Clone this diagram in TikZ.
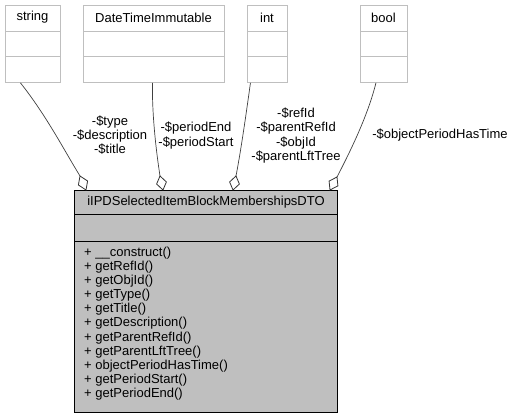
\documentclass[tikz,border=0pt]{standalone}
\usepackage{fontspec}
\setmainfont{Liberation Sans}
\usetikzlibrary{calc}
\definecolor{boxgray}{HTML}{BFBFBF}
\definecolor{lightedge}{HTML}{BFBFBF}
\tikzset{
  typebox/.style={draw=lightedge, fill=white, line width=0.9pt, minimum height=77pt, inner sep=0pt, anchor=north west},
  mainbox/.style={draw=black, fill=boxgray, line width=0.9pt, inner sep=0pt, anchor=north west},
  txt/.style={font=\fontsize{13}{14.3}\selectfont, inner sep=0pt},
  lbl/.style={txt, align=center},
  agg/.style={draw=black!75, line width=0.7pt},
  aggtip/.style={draw=black!80, fill=white, line width=0.8pt},
}
\begin{document}
\begin{tikzpicture}[x=1pt,y=-1pt]
\useasboundingbox (0,0) rectangle (515,419);
% type boxes
\node[typebox, minimum width=55pt] (string) at (5,5) {};
\draw[lightedge, line width=0.9pt] (5,31) -- (60,31) (5,56.5) -- (60,56.5);
\node[txt] (stringT) at (32.5,17.5) {string};
\node[typebox, minimum width=141pt] (dti) at (83,5) {};
\draw[lightedge, line width=0.9pt] (83,31) -- (224,31) (83,56.5) -- (224,56.5);
\node[txt] (dtiT) at (153.5,17.5) {DateTimeImmutable};
\node[typebox, minimum width=40pt] (int) at (247,5) {};
\draw[lightedge, line width=0.9pt] (247,31) -- (287,31) (247,56.5) -- (287,56.5);
\node[txt] (intT) at (267,17.5) {int};
\node[typebox, minimum width=47pt] (bool) at (360,5) {};
\draw[lightedge, line width=0.9pt] (360,31) -- (407,31) (360,56.5) -- (407,56.5);
\node[txt] (boolT) at (383.5,17.5) {bool};
% main class
\node[mainbox, minimum width=263pt, minimum height=222pt] (cls) at (74,190) {};
\draw[black, line width=0.9pt] (74,214) -- (337,214) (74,241) -- (337,241);
\node[txt] (clsT) at (206,202) {iIPDSelectedItemBlockMembershipsDTO};
\foreach \m [count=\i from 0] in {{+ \_\_construct()},{+ getRefId()},{+ getObjId()},{+ getType()},{+ getTitle()},{+ getDescription()},{+ getParentRefId()},{+ getParentLftTree()},{+ objectPeriodHasTime()},{+ getPeriodStart()},{+ getPeriodEnd()}}
  \node[txt, anchor=base west] (m\i) at (84,256.5+14.1*\i) {\m};
% connectors
\coordinate (e1) at (86,190);
\coordinate (e2) at (163,190);
\coordinate (e3) at (233,190);
\coordinate (e4) at (330,190);
\coordinate (d1) at (80,176);
\coordinate (d2) at (160,176);
\coordinate (d3) at (236,176);
\coordinate (d4) at (337,177);
\draw[agg] (d1) .. controls (64,150) and (46,115) .. ([xshift=-12.5pt]string.south);
\draw[agg] (d2) .. controls (156,150) and (152,115) .. ([xshift=-1.5pt]dti.south);
\draw[agg] (d3) .. controls (241,150) and (246,115) .. ([xshift=-17pt]int.south);
\draw[agg] (d4) .. controls (351,150) and (368,115) .. ([xshift=-8pt]bool.south);
% diamonds
\foreach \a/\b in {e1/d1,e2/d2,e3/d3,e4/d4}
  \draw[aggtip] (\a) -- ($(\a)!0.5!(\b)!5pt!90:(\b)$) -- (\b) -- ($(\a)!0.5!(\b)!5pt!-90:(\b)$) -- cycle;
% labels
\node[lbl] (l1) at (110,135) {-\$type\\-\$description\\-\$title};
\node[lbl] (l2) at (196,135.5) {-\$periodEnd\\-\$periodStart};
\node[lbl] (l3) at (296,135.5) {-\$refId\\-\$parentRefId\\-\$objId\\-\$parentLftTree};
\node[lbl] (l4) at (440,135.5) {-\$objectPeriodHasTime};
\end{tikzpicture}
\end{document}
